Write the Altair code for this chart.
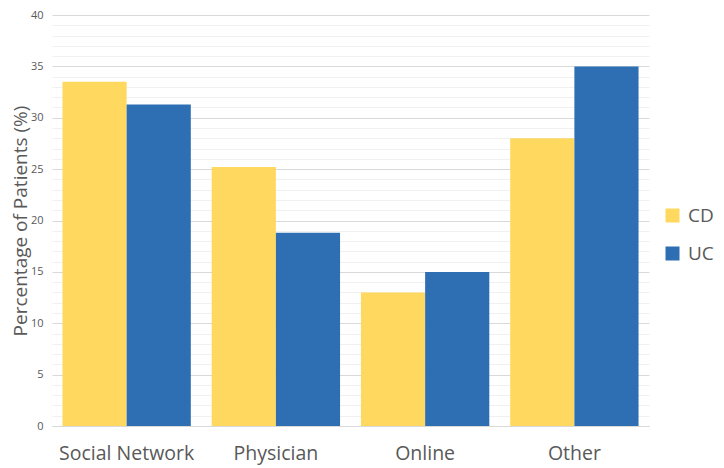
import altair as alt
import pandas as pd

categories = ["Social Network", "Physician", "Online", "Other"]
groups = ["CD", "UC"]
cd_values = [33.5, 25.2, 13.0, 28.0]
uc_values = [31.3, 18.8, 15.0, 35.0]
y_ticks = list(range(0, 41))

rows = []
for c, v in zip(categories, cd_values):
    rows.append({"category": c, "group": "CD", "value": v})
for c, v in zip(categories, uc_values):
    rows.append({"category": c, "group": "UC", "value": v})
df = pd.DataFrame(rows)

FONT = "Open Sans"
GREY = "#595959"

chart = alt.Chart(df).mark_bar().encode(
    x=alt.X("category:N", sort=categories, title=None,
            scale=alt.Scale(paddingInner=0.14, paddingOuter=0.07),
            axis=alt.Axis(labelAngle=0, labelFontSize=19.5, labelColor=GREY,
                          labelFont=FONT, ticks=False, domain=True,
                          domainColor="#d9d9d9", labelPadding=18)),
    xOffset=alt.XOffset("group:N", sort=groups),
    y=alt.Y("value:Q", title="Percentage of Patients (%)",
            scale=alt.Scale(domain=[0, 40], nice=False),
            axis=alt.Axis(values=y_ticks, ticks=False, domain=False,
                          labelExpr="datum.value % 5 === 0 ? datum.label : ''",
                          labelFontSize=11, labelColor=GREY, labelFont=FONT,
                          labelPadding=9,
                          gridColor={"condition": {"test": "datum.value % 5 === 0", "value": "#d9d9d9"},
                                     "value": "#f0f0f0"},
                          titleFontSize=19, titleFont=FONT, titleColor=GREY,
                          titleFontWeight="normal", titleX=-22)),
    color=alt.Color("group:N", sort=groups,
                    scale=alt.Scale(domain=groups, range=["#FFD95F", "#2E6FB4"]),
                    legend=alt.Legend(title=None, orient="none", legendX=611, legendY=191,
                                      symbolType="square", symbolSize=196, symbolStrokeWidth=0,
                                      labelFontSize=19, labelFont=FONT, labelColor=GREY,
                                      rowPadding=18, labelOffset=6)),
).properties(
    width=597, height=411,
    autosize=alt.AutoSizeParams(type="none"),
    padding={"left": 44, "top": 7, "right": 67, "bottom": 42},
).configure_view(stroke=None)

chart.save("out.html", embed_options={"renderer": "svg", "actions": False})
